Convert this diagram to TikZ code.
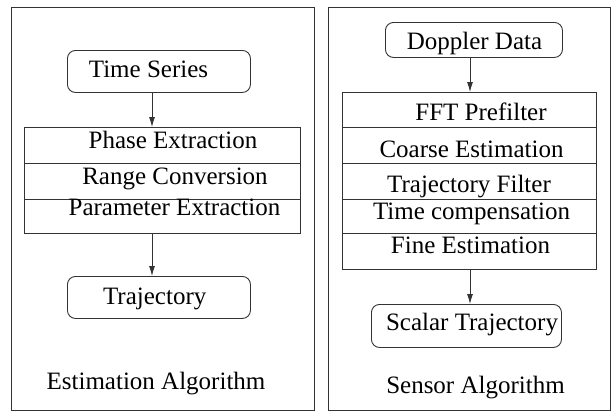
\documentclass[tikz,border=0pt]{standalone}
\usepackage{fontspec}
\setmainfont{Liberation Serif}
\newfontfamily\figserif{Liberation Serif}
\usetikzlibrary{arrows.meta}
\begin{document}
\begin{tikzpicture}[x=1pt,y=-1pt,
  ln/.style={draw=black!80, line width=0.9pt},
  panel/.style={ln, line width=1.1pt, inner sep=0pt, anchor=north west},
  rbox/.style={ln, rounded corners=8pt, inner sep=0pt, anchor=north west},
  row/.style={ln, inner sep=0pt, anchor=north west},
  lbl/.style={anchor=base, inner sep=0pt, font=\figserif\fontsize{25}{29}\selectfont},
  arr/.style={ln, -{Latex[length=10pt,width=6pt]}}]
\useasboundingbox (0,0) rectangle (616,415);
% left panel
\node[panel, minimum width=303.5pt, minimum height=403pt] (lp) at (10.5,7) {};
\node[rbox, minimum width=183pt, minimum height=42pt] (ts) at (67,50) {};
\node[row, minimum width=276pt, minimum height=36pt] (l1) at (24,127) {};
\node[row, minimum width=276pt, minimum height=36pt] (l2) at (24,163) {};
\node[row, minimum width=276pt, minimum height=34pt] (l3) at (24,199) {};
\node[rbox, minimum width=183pt, minimum height=42pt] (tr) at (67,276) {};
\node[lbl] (tst) at (148.5,77) {Time Series};
\node[lbl] (l1t) at (173,148) {Phase Extraction};
\node[lbl] (l2t) at (175,184) {Range Conversion};
\node[lbl] (l3t) at (174.5,215) {Parameter Extraction};
\node[lbl] (trt) at (154.7,304) {Trajectory};
\node[lbl] (lpt) at (156,389) {Estimation Algorithm};
\coordinate (ax1) at (152,0);
\draw[arr] (ts.south -| ax1) -- (l1.north -| ax1);
\draw[arr] (l3.south -| ax1) -- (tr.north -| ax1);
% right panel
\node[panel, minimum width=282pt, minimum height=403pt] (rp) at (328,7) {};
\node[rbox, minimum width=177pt, minimum height=35pt] (dd) at (385,22) {};
\node[row, minimum width=254pt, minimum height=35pt] (r1) at (342,92) {};
\node[row, minimum width=254pt, minimum height=36pt] (r2) at (342,127) {};
\node[row, minimum width=254pt, minimum height=36pt] (r3) at (342,163) {};
\node[row, minimum width=254pt, minimum height=34pt] (r4) at (342,199) {};
\node[row, minimum width=254pt, minimum height=36pt] (r5) at (342,233) {};
\node[rbox, minimum width=190pt, minimum height=43pt] (st) at (371,304) {};
\node[lbl] (ddt) at (474.5,49) {Doppler Data};
\node[lbl] (r1t) at (481,120) {FFT Prefilter};
\node[lbl] (r2t) at (471.5,157) {Coarse Estimation};
\node[lbl] (r3t) at (469,192) {Trajectory Filter};
\node[lbl] (r4t) at (471.5,219) {Time compensation};
\node[lbl] (r5t) at (470.5,253) {Fine Estimation};
\node[lbl] (stt) at (472,330) {Scalar Trajectory};
\node[lbl] (rpt) at (475.5,393) {Sensor Algorithm};
\coordinate (ax2) at (470,0);
\draw[arr] (dd.south -| ax2) -- (r1.north -| ax2);
\draw[arr] (r5.south -| ax2) -- (st.north -| ax2);
\end{tikzpicture}
\end{document}
